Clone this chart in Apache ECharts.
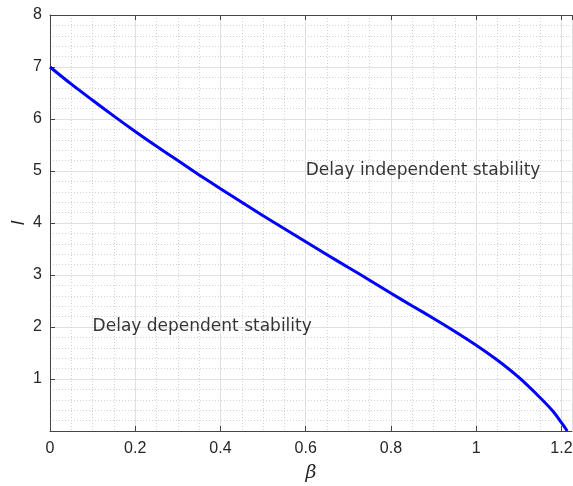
<!DOCTYPE html>
<html>
<head>
<meta charset="utf-8">
<script src="https://cdn.jsdelivr.net/npm/echarts@6/dist/echarts.min.js"></script>
<style>html,body{margin:0;padding:0;background:#fff}#c{width:573px;height:486px}</style>
</head>
<body>
<div id="c"></div>
<script>
const betaValues = [0, 0.05, 0.1, 0.15, 0.2, 0.25, 0.3, 0.35, 0.4, 0.45, 0.5, 0.55, 0.6, 0.65, 0.7, 0.75, 0.8, 0.85, 0.9, 0.95, 1.0, 1.05, 1.1, 1.15, 1.18, 1.2, 1.2135];
const lValues    = [7.0, 6.67, 6.36, 6.055, 5.76, 5.475, 5.2, 4.925, 4.66, 4.4, 4.14, 3.89, 3.64, 3.39, 3.145, 2.9, 2.65, 2.405, 2.165, 1.915, 1.65, 1.36, 1.03, 0.64, 0.38, 0.16, 0];
const xTicks = [0, 0.2, 0.4, 0.6, 0.8, 1, 1.2];
const yTicks = [1, 2, 3, 4, 5, 6, 7, 8];
const regionLabels = ["Delay independent stability", "Delay dependent stability"];
const regionX = [0.6, 0.1];
const regionY = [5, 2];

const chart = echarts.init(document.getElementById('c'), null, {renderer: 'canvas'});
const txt = '#262626';
const font = 'Liberation Sans, Arial, Helvetica, sans-serif';
const majorGrid = {show: true, lineStyle: {color: '#e0e0e0', width: 1}};
const minorGrid = {show: true, lineStyle: {color: '#d2d2d2', width: 1, type: [1, 2]}};
chart.setOption({
  animation: false,
  grid: {left: 50, top: 15, right: 1, bottom: 55, containLabel: false, outerBoundsMode: 'none'},
  xAxis: [{
    type: 'value', min: 0, max: 1.2247, interval: 0.2,
    name: 'β', nameLocation: 'middle', nameGap: 33, nameMoveOverlap: false,
    nameTextStyle: {fontSize: 19, fontStyle: 'italic', color: txt, fontFamily: 'DejaVu Serif, serif'},
    axisLine: {show: true, lineStyle: {color: '#444', width: 1}},
    axisTick: {show: true, inside: true, length: 5, lineStyle: {color: '#444'}},
    axisLabel: {color: txt, fontSize: 16, fontFamily: font, margin: 10, showMaxLabel: false,
      formatter: v => xTicks.some(t => Math.abs(t - v) < 1e-6) ? String(+v.toFixed(1)) : ''},
    splitLine: majorGrid,
    minorTick: {show: false, splitNumber: 4},
    minorSplitLine: minorGrid
  }, {
    type: 'value', min: 0, max: 1.2247, interval: 0.2, position: 'top',
    axisLine: {show: true, lineStyle: {color: '#444', width: 1}},
    axisTick: {show: true, inside: true, length: 5, lineStyle: {color: '#444'}},
    axisLabel: {show: false}, splitLine: {show: false}
  }],
  yAxis: [{
    type: 'value', min: 0, max: 8, interval: 1,
    name: 'l', nameLocation: 'middle', nameGap: 22, nameRotate: 90, nameMoveOverlap: false,
    nameTextStyle: {fontSize: 18, fontStyle: 'italic', color: txt, fontFamily: font},
    axisLine: {show: true, lineStyle: {color: '#444', width: 1}},
    axisTick: {show: true, inside: true, length: 5, lineStyle: {color: '#444'}},
    axisLabel: {color: txt, fontSize: 16, fontFamily: font, margin: 8,
      formatter: v => yTicks.includes(v) ? String(v) : ''},
    splitLine: majorGrid,
    minorTick: {show: false, splitNumber: 5},
    minorSplitLine: minorGrid
  }],
  series: [{
    type: 'line', xAxisIndex: 0, yAxisIndex: 0,
    data: betaValues.map((b, i) => [b, lValues[i]]),
    showSymbol: false, smooth: 0.3, clip: false,
    lineStyle: {color: '#0000ff', width: 3}
  }, {
    type: 'scatter', xAxisIndex: 0, yAxisIndex: 0, symbolSize: 0,
    data: regionLabels.map((s, i) => ({value: [regionX[i], regionY[i]], name: s})),
    label: {show: true, position: 'right', distance: 0, formatter: p => p.name,
      color: '#000', fontSize: 17, fontFamily: 'DejaVu Sans, sans-serif', verticalAlign: 'middle'}
  }]
});
</script>
</body>
</html>
